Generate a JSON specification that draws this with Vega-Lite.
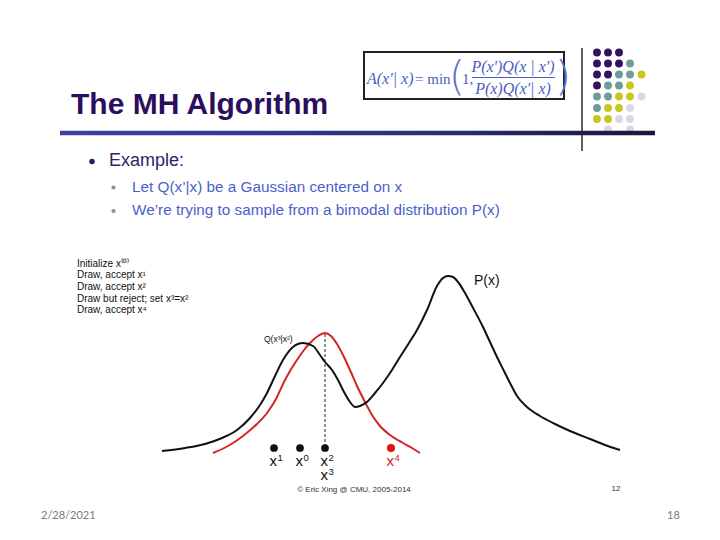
{
  "$schema": "https://vega.github.io/schema/vega-lite/v6.json",
  "width": 720,
  "height": 540,
  "autosize": {"type": "fit", "contains": "padding"},
  "padding": 0,
  "background": "white",
  "config": {"view": {"stroke": null}},
  "datasets": {
    "grid": [
      {"x": 597, "y": 52.5, "c": "purple"}, {"x": 608, "y": 52.5, "c": "purple"}, {"x": 619, "y": 52.5, "c": "purple"},
      {"x": 597, "y": 63.5, "c": "purple"}, {"x": 608, "y": 63.5, "c": "purple"}, {"x": 619, "y": 63.5, "c": "purple"}, {"x": 630, "y": 63.5, "c": "teal"},
      {"x": 597, "y": 74.5, "c": "purple"}, {"x": 608, "y": 74.5, "c": "purple"}, {"x": 619, "y": 74.5, "c": "teal"}, {"x": 630, "y": 74.5, "c": "teal"}, {"x": 641.5, "y": 74.5, "c": "yellow"},
      {"x": 597, "y": 85.5, "c": "purple"}, {"x": 608, "y": 85.5, "c": "teal"}, {"x": 619, "y": 85.5, "c": "teal"}, {"x": 630, "y": 85.5, "c": "yellow"},
      {"x": 597, "y": 96.5, "c": "teal"}, {"x": 608, "y": 96.5, "c": "teal"}, {"x": 619, "y": 96.5, "c": "yellow"}, {"x": 630, "y": 96.5, "c": "yellow"}, {"x": 641.5, "y": 96.5, "c": "lavender"},
      {"x": 597, "y": 108, "c": "teal"}, {"x": 608, "y": 108, "c": "yellow"}, {"x": 619, "y": 108, "c": "yellow"}, {"x": 630, "y": 108, "c": "lavender"},
      {"x": 597, "y": 119, "c": "yellow"}, {"x": 608, "y": 119, "c": "yellow"}, {"x": 619, "y": 119, "c": "lavender"}, {"x": 630, "y": 119, "c": "lavender"},
      {"x": 608, "y": 129.5, "c": "lavender"}, {"x": 630, "y": 129.5, "c": "lavender"}
    ],
    "curves": [
      {"s": "P", "x": 162, "y": 451}, {"s": "P", "x": 185, "y": 448}, {"s": "P", "x": 205, "y": 444}, {"s": "P", "x": 222, "y": 438},
      {"s": "P", "x": 237, "y": 430}, {"s": "P", "x": 250, "y": 418}, {"s": "P", "x": 260, "y": 405}, {"s": "P", "x": 267, "y": 393},
      {"s": "P", "x": 275, "y": 376}, {"s": "P", "x": 283, "y": 360}, {"s": "P", "x": 293, "y": 347}, {"s": "P", "x": 303, "y": 343},
      {"s": "P", "x": 313, "y": 346}, {"s": "P", "x": 320, "y": 355}, {"s": "P", "x": 325, "y": 362}, {"s": "P", "x": 332, "y": 370},
      {"s": "P", "x": 338, "y": 380}, {"s": "P", "x": 344, "y": 392}, {"s": "P", "x": 350, "y": 402}, {"s": "P", "x": 355, "y": 407},
      {"s": "P", "x": 360, "y": 406}, {"s": "P", "x": 367, "y": 402}, {"s": "P", "x": 375, "y": 393}, {"s": "P", "x": 383, "y": 383},
      {"s": "P", "x": 392, "y": 370}, {"s": "P", "x": 400, "y": 357}, {"s": "P", "x": 409, "y": 343}, {"s": "P", "x": 417, "y": 330},
      {"s": "P", "x": 427, "y": 310}, {"s": "P", "x": 437, "y": 286}, {"s": "P", "x": 443, "y": 278}, {"s": "P", "x": 448, "y": 276},
      {"s": "P", "x": 453, "y": 277}, {"s": "P", "x": 458, "y": 282}, {"s": "P", "x": 465, "y": 293}, {"s": "P", "x": 472, "y": 306},
      {"s": "P", "x": 483, "y": 327}, {"s": "P", "x": 490, "y": 342}, {"s": "P", "x": 497, "y": 357}, {"s": "P", "x": 504, "y": 371},
      {"s": "P", "x": 510, "y": 383}, {"s": "P", "x": 517, "y": 396}, {"s": "P", "x": 527, "y": 407}, {"s": "P", "x": 540, "y": 416},
      {"s": "P", "x": 555, "y": 424}, {"s": "P", "x": 570, "y": 431}, {"s": "P", "x": 590, "y": 439}, {"s": "P", "x": 605, "y": 445},
      {"s": "P", "x": 620, "y": 450},
      {"s": "Q", "x": 213, "y": 453}, {"s": "Q", "x": 228, "y": 446}, {"s": "Q", "x": 243, "y": 436}, {"s": "Q", "x": 257, "y": 424},
      {"s": "Q", "x": 267, "y": 413}, {"s": "Q", "x": 276, "y": 399}, {"s": "Q", "x": 283, "y": 384}, {"s": "Q", "x": 290, "y": 371},
      {"s": "Q", "x": 297, "y": 360}, {"s": "Q", "x": 304, "y": 350}, {"s": "Q", "x": 310, "y": 343}, {"s": "Q", "x": 318, "y": 336},
      {"s": "Q", "x": 325, "y": 333}, {"s": "Q", "x": 331, "y": 336}, {"s": "Q", "x": 337, "y": 344}, {"s": "Q", "x": 343, "y": 355},
      {"s": "Q", "x": 350, "y": 370}, {"s": "Q", "x": 357, "y": 386}, {"s": "Q", "x": 365, "y": 402}, {"s": "Q", "x": 372, "y": 415},
      {"s": "Q", "x": 380, "y": 426}, {"s": "Q", "x": 390, "y": 435}, {"s": "Q", "x": 403, "y": 443}, {"s": "Q", "x": 412, "y": 448},
      {"s": "Q", "x": 420, "y": 453}
    ],
    "samples": [
      {"x": 274, "y": 448, "s": "black"},
      {"x": 300, "y": 448, "s": "black"},
      {"x": 325, "y": 448, "s": "black"},
      {"x": 391, "y": 448, "s": "red"}
    ],
    "samplelabels": [
      {"x": 274, "y": 465.5, "s": "black", "digit": "1"},
      {"x": 300, "y": 465.5, "s": "black", "digit": "0"},
      {"x": 325, "y": 465.5, "s": "black", "digit": "2"},
      {"x": 325, "y": 480, "s": "black", "digit": "3"},
      {"x": 391, "y": 465.5, "s": "red", "digit": "4"}
    ],
    "texts": [
      {"kind": "title", "text": "The MH Algorithm", "x": 71, "y": 114},
      {"kind": "example", "text": "Example:", "x": 109, "y": 166},
      {"kind": "sub", "text": "Let Q(x’|x) be a Gaussian centered on x", "x": 132, "y": 191.5},
      {"kind": "sub", "text": "We’re trying to sample from a bimodal distribution P(x)", "x": 132, "y": 215},
      {"kind": "small", "text": "Initialize x⁽⁰⁾", "x": 77, "y": 266.5},
      {"kind": "small", "text": "Draw, accept x¹", "x": 77, "y": 278},
      {"kind": "small", "text": "Draw, accept x²", "x": 77, "y": 289.5},
      {"kind": "small", "text": "Draw but reject; set x³=x²", "x": 77, "y": 301.5},
      {"kind": "small", "text": "Draw, accept x⁴", "x": 77, "y": 313},
      {"kind": "qlabel", "text": "Q(x³|x²)", "x": 264, "y": 342},
      {"kind": "plabel", "text": "P(x)", "x": 474, "y": 285},
      {"kind": "footer", "text": "© Eric Xing @ CMU, 2005-2014", "x": 354, "y": 492},
      {"kind": "footer", "text": "12", "x": 616, "y": 491},
      {"kind": "slide", "text": "2/28/2021", "x": 41, "y": 519},
      {"kind": "slide", "text": "18", "x": 667, "y": 519},
      {"kind": "fital", "text": "A(x'| x)", "x": 367, "y": 83.5},
      {"kind": "fup", "text": "= min", "x": 415, "y": 83.5},
      {"kind": "fup", "text": "1,", "x": 462, "y": 83.5},
      {"kind": "fparen", "text": "(", "x": 449, "y": 90},
      {"kind": "fparen", "text": ")", "x": 555, "y": 90},
      {"kind": "fcenter", "text": "P(x')Q(x | x')", "x": 513, "y": 71.5},
      {"kind": "fcenter", "text": "P(x)Q(x'| x)", "x": 513, "y": 94}
    ],
    "bullets": [
      {"kind": "main", "x": 92, "y": 161.5},
      {"kind": "sub", "x": 113.5, "y": 187.5},
      {"kind": "sub", "x": 113.5, "y": 211}
    ]
  },
  "encoding": {
    "x": {"field": "x", "type": "quantitative", "scale": {"domain": [0, 720], "nice": false, "zero": false}, "axis": null},
    "y": {"field": "y", "type": "quantitative", "scale": {"domain": [0, 540], "nice": false, "zero": false, "reverse": true}, "axis": null}
  },
  "layer": [
    {
      "data": {"name": "grid"},
      "mark": {"type": "circle", "size": 62, "opacity": 1},
      "encoding": {
        "color": {"field": "c", "type": "nominal", "legend": null,
          "scale": {"domain": ["purple", "teal", "yellow", "lavender"], "range": ["#35105e", "#6f9b9a", "#c8c61f", "#d8d8e8"]}}
      }
    },
    {
      "data": {"values": [{"x": 60, "x2": 655, "y": 130.8, "y2": 135.2}]},
      "mark": {"type": "rect", "fill": {"gradient": "linear", "x1": 0, "y1": 0, "x2": 1, "y2": 0,
        "stops": [{"offset": 0, "color": "#3d42a2"}, {"offset": 0.6, "color": "#2c2f7c"}, {"offset": 1, "color": "#17173a"}]}},
      "encoding": {"x2": {"field": "x2"}, "y2": {"field": "y2"}}
    },
    {
      "data": {"values": [{"x": 582, "y": 48, "y2": 151}]},
      "mark": {"type": "rule", "color": "#2a2a2a", "strokeWidth": 1.5},
      "encoding": {"y2": {"field": "y2"}}
    },
    {
      "data": {"values": [{"x": 364, "x2": 564, "y": 52, "y2": 99}]},
      "mark": {"type": "rect", "fill": "white", "stroke": "#222222", "strokeWidth": 2},
      "encoding": {"x2": {"field": "x2"}, "y2": {"field": "y2"}}
    },
    {
      "data": {"values": [{"x": 472, "x2": 555, "y": 77.5}]},
      "mark": {"type": "rule", "color": "#4b5cc4", "strokeWidth": 1},
      "encoding": {"x2": {"field": "x2"}}
    },
    {
      "data": {"name": "bullets"},
      "transform": [{"filter": "datum.kind === 'main'"}],
      "mark": {"type": "circle", "size": 30, "color": "#2e1560", "opacity": 1}
    },
    {
      "data": {"name": "bullets"},
      "transform": [{"filter": "datum.kind === 'sub'"}],
      "mark": {"type": "circle", "size": 18, "color": "#7d9c9a", "opacity": 1}
    },
    {
      "data": {"name": "texts"},
      "transform": [{"filter": "datum.kind === 'title'"}],
      "mark": {"type": "text", "align": "left", "baseline": "alphabetic", "font": "Liberation Sans", "fontWeight": "bold", "fontSize": 30, "color": "#2b0f5e"},
      "encoding": {"text": {"field": "text"}}
    },
    {
      "data": {"name": "texts"},
      "transform": [{"filter": "datum.kind === 'example'"}],
      "mark": {"type": "text", "align": "left", "baseline": "alphabetic", "font": "Liberation Sans", "fontSize": 18, "color": "#2f2366"},
      "encoding": {"text": {"field": "text"}}
    },
    {
      "data": {"name": "texts"},
      "transform": [{"filter": "datum.kind === 'sub'"}],
      "mark": {"type": "text", "align": "left", "baseline": "alphabetic", "font": "Liberation Sans", "fontSize": 15.3, "color": "#4a5fcc"},
      "encoding": {"text": {"field": "text"}}
    },
    {
      "data": {"name": "texts"},
      "transform": [{"filter": "datum.kind === 'small'"}],
      "mark": {"type": "text", "align": "left", "baseline": "alphabetic", "font": "Liberation Sans", "fontSize": 10, "color": "#111111"},
      "encoding": {"text": {"field": "text"}}
    },
    {
      "data": {"name": "texts"},
      "transform": [{"filter": "datum.kind === 'qlabel'"}],
      "mark": {"type": "text", "align": "left", "baseline": "alphabetic", "font": "Liberation Sans", "fontSize": 8.5, "color": "#111111"},
      "encoding": {"text": {"field": "text"}}
    },
    {
      "data": {"name": "texts"},
      "transform": [{"filter": "datum.kind === 'plabel'"}],
      "mark": {"type": "text", "align": "left", "baseline": "alphabetic", "font": "Liberation Sans", "fontSize": 14, "color": "#111111"},
      "encoding": {"text": {"field": "text"}}
    },
    {
      "data": {"name": "texts"},
      "transform": [{"filter": "datum.kind === 'footer'"}],
      "mark": {"type": "text", "align": "center", "baseline": "alphabetic", "font": "Liberation Sans", "fontSize": 8, "color": "#333333"},
      "encoding": {"text": {"field": "text"}}
    },
    {
      "data": {"name": "texts"},
      "transform": [{"filter": "datum.kind === 'slide'"}],
      "mark": {"type": "text", "align": "left", "baseline": "alphabetic", "font": "Lato", "fontSize": 11, "color": "#7a7a7a"},
      "encoding": {"text": {"field": "text"}}
    },
    {
      "data": {"name": "texts"},
      "transform": [{"filter": "datum.kind === 'fital'"}],
      "mark": {"type": "text", "align": "left", "baseline": "alphabetic", "font": "Liberation Serif", "fontStyle": "italic", "fontSize": 16, "color": "#4b5cc4"},
      "encoding": {"text": {"field": "text"}}
    },
    {
      "data": {"name": "texts"},
      "transform": [{"filter": "datum.kind === 'fup'"}],
      "mark": {"type": "text", "align": "left", "baseline": "alphabetic", "font": "Liberation Serif", "fontSize": 15, "color": "#4b5cc4"},
      "encoding": {"text": {"field": "text"}}
    },
    {
      "data": {"name": "texts"},
      "transform": [{"filter": "datum.kind === 'fparen'"}],
      "mark": {"type": "text", "align": "left", "baseline": "alphabetic", "font": "DejaVu Sans", "fontWeight": 200, "fontSize": 41, "color": "#5f6dc8"},
      "encoding": {"text": {"field": "text"}}
    },
    {
      "data": {"name": "texts"},
      "transform": [{"filter": "datum.kind === 'fcenter'"}],
      "mark": {"type": "text", "align": "center", "baseline": "alphabetic", "font": "Liberation Serif", "fontStyle": "italic", "fontSize": 16, "color": "#4b5cc4"},
      "encoding": {"text": {"field": "text"}}
    },
    {
      "data": {"name": "curves"},
      "transform": [{"filter": "datum.s === 'Q'"}],
      "mark": {"type": "line", "interpolate": "monotone", "color": "#d42424", "strokeWidth": 2}
    },
    {
      "data": {"name": "curves"},
      "transform": [{"filter": "datum.s === 'P'"}],
      "mark": {"type": "line", "interpolate": "monotone", "color": "#111111", "strokeWidth": 2}
    },
    {
      "data": {"values": [{"x": 325, "y": 334, "y2": 446}]},
      "mark": {"type": "rule", "color": "#222222", "strokeWidth": 1, "strokeDash": [3, 2]},
      "encoding": {"y2": {"field": "y2"}}
    },
    {
      "data": {"name": "samples"},
      "transform": [{"filter": "datum.s === 'black'"}],
      "mark": {"type": "circle", "size": 60, "color": "#111111", "opacity": 1}
    },
    {
      "data": {"name": "samples"},
      "transform": [{"filter": "datum.s === 'red'"}],
      "mark": {"type": "circle", "size": 64, "color": "#e01212", "opacity": 1}
    },
    {
      "data": {"name": "samplelabels"},
      "transform": [{"filter": "datum.s === 'black'"}],
      "layer": [
        {"mark": {"type": "text", "align": "right", "baseline": "alphabetic", "font": "Liberation Sans", "fontSize": 15, "color": "#111111", "dx": 3},
         "encoding": {"text": {"value": "x"}}},
        {"mark": {"type": "text", "align": "left", "baseline": "alphabetic", "font": "Liberation Sans", "fontSize": 9.5, "color": "#111111", "dx": 3.5, "dy": -5},
         "encoding": {"text": {"field": "digit"}}}
      ]
    },
    {
      "data": {"name": "samplelabels"},
      "transform": [{"filter": "datum.s === 'red'"}],
      "layer": [
        {"mark": {"type": "text", "align": "right", "baseline": "alphabetic", "font": "Liberation Sans", "fontSize": 15, "color": "#d42424", "dx": 3},
         "encoding": {"text": {"value": "x"}}},
        {"mark": {"type": "text", "align": "left", "baseline": "alphabetic", "font": "Liberation Sans", "fontSize": 9.5, "color": "#d42424", "dx": 3.5, "dy": -5},
         "encoding": {"text": {"field": "digit"}}}
      ]
    }
  ]
}
